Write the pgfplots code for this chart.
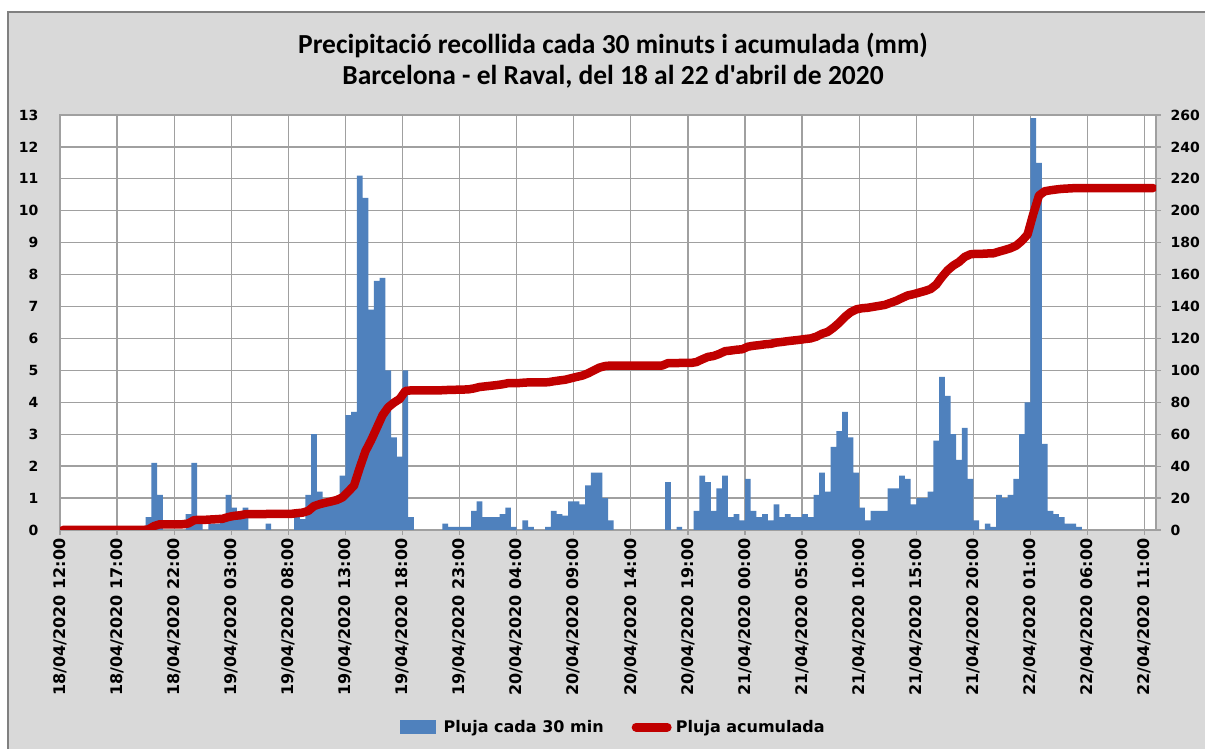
\documentclass[border=0pt]{standalone}
\usepackage{fontspec}
\usepackage{pgfplots}
\pgfplotsset{compat=1.18}
\newfontfamily\tickfont{DejaVu Sans}
\newfontfamily\titlefont{Carlito}
\definecolor{barblue}{HTML}{4F81BD}
\definecolor{linered}{HTML}{C00000}
\definecolor{bggray}{HTML}{D9D9D9}
\definecolor{gridgray}{HTML}{A0A0A0}
\newcommand{\tf}{\tickfont\bfseries\fontsize{16}{18}\selectfont}
\newcommand{\nf}{\tickfont\bfseries\fontsize{14}{17}\selectfont}
\begin{document}
\begin{tikzpicture}[x=1pt,y=1pt]
\useasboundingbox (0,0) rectangle (1205,749);
\fill[white] (0,0) rectangle (1205,749);
\filldraw[fill=bggray, draw=gray, line width=1.2pt] (8,-5) rectangle (1215,737);
\node[font=\titlefont\bfseries\fontsize{27.5}{32}\selectfont] at (613,704) {Precipitació recollida cada 30 minuts i acumulada (mm)};
\node[font=\titlefont\bfseries\fontsize{27.5}{32}\selectfont] at (613,672) {Barcelona - el Raval, del 18 al 22 d'abril de 2020};
\begin{axis}[
  at={(60pt,219pt)}, anchor=south west,
  width=1096pt, height=415pt, scale only axis,
  xmin=0, xmax=192, ymin=0, ymax=13,
  axis background/.style={fill=white},
  xtick={0,10,...,190},
  xticklabels={{18/04/2020 12:00},{18/04/2020 17:00},{18/04/2020 22:00},{19/04/2020 03:00},{19/04/2020 08:00},{19/04/2020 13:00},{19/04/2020 18:00},{19/04/2020 23:00},{20/04/2020 04:00},{20/04/2020 09:00},{20/04/2020 14:00},{20/04/2020 19:00},{21/04/2020 00:00},{21/04/2020 05:00},{21/04/2020 10:00},{21/04/2020 15:00},{21/04/2020 20:00},{22/04/2020 01:00},{22/04/2020 06:00},{22/04/2020 11:00}},
  xticklabel style={rotate=90, anchor=east, font=\tf},
  ytick={0,1,...,13},
  yticklabel style={font=\nf, xshift=-13pt},
  /pgf/number format/assume math mode=true,
  grid=major, major grid style={gridgray, line width=1.3pt},
  axis line style={gridgray, line width=1.3pt},
  tick pos=left, tick align=outside, major tick length=5pt,
  xtick style={gridgray, line width=1.3pt},
  ytick style={draw=none},
]
\addplot[ybar, bar width=1, fill=barblue, draw=none] coordinates {
(15.5,0.4) (16.5,2.1) (17.5,1.1) (22.5,0.5) (23.5,2.1) (24.5,0.2) (26.5,0.2) (27.5,0.2) (28.5,0.25) (29.5,1.1) (30.5,0.7) (31.5,0.35) (32.5,0.7) (36.5,0.2)
(41.5,0.44) (42.5,0.34) (43.5,1.1) (44.5,3.0) (45.5,1.2) (46.5,0.9) (47.5,0.8) (48.5,0.9) (49.5,1.7) (50.5,3.6) (51.5,3.7) (52.5,11.1) (53.5,10.4) (54.5,6.9) (55.5,7.8) (56.5,7.9) (57.5,5.0) (58.5,2.9) (59.5,2.3) (60.5,5.0) (61.5,0.4)
(67.5,0.2) (68.5,0.1) (69.5,0.1) (70.5,0.1) (71.5,0.1) (72.5,0.6) (73.5,0.9) (74.5,0.4) (75.5,0.4) (76.5,0.4) (77.5,0.5) (78.5,0.7) (79.5,0.1) (81.5,0.3) (82.5,0.1) (85.5,0.1) (86.5,0.6) (87.5,0.5) (88.5,0.45) (89.5,0.9) (90.5,0.9) (91.5,0.8) (92.5,1.4) (93.5,1.8) (94.5,1.8) (95.5,1.0) (96.5,0.3)
(106.5,1.5) (108.5,0.1) (111.5,0.6) (112.5,1.7) (113.5,1.5) (114.5,0.6) (115.5,1.3) (116.5,1.7) (117.5,0.4) (118.5,0.5) (119.5,0.3) (120.5,1.6) (121.5,0.6) (122.5,0.4) (123.5,0.5) (124.5,0.3) (125.5,0.8) (126.5,0.4) (127.5,0.5) (128.5,0.4) (129.5,0.4) (130.5,0.5) (131.5,0.4)
(132.5,1.1) (133.5,1.8) (134.5,1.2) (135.5,2.6) (136.5,3.1) (137.5,3.7) (138.5,2.9) (139.5,1.8) (140.5,0.7) (141.5,0.3) (142.5,0.6) (143.5,0.6) (144.5,0.6) (145.5,1.3) (146.5,1.3) (147.5,1.7) (148.5,1.6) (149.5,0.8) (150.5,1.0) (151.5,1.0) (152.5,1.2) (153.5,2.8) (154.5,4.8) (155.5,4.2) (156.5,3.0) (157.5,2.2) (158.5,3.2) (159.5,1.6) (160.5,0.3)
(162.5,0.2) (163.5,0.1) (164.5,1.1) (165.5,1.0) (166.5,1.1) (167.5,1.6) (168.5,3.0) (169.5,4.0) (170.5,12.9) (171.5,11.5) (172.5,2.7) (173.5,0.6) (174.5,0.5) (175.5,0.4) (176.5,0.2) (177.5,0.2) (178.5,0.1)
};
\end{axis}
\begin{axis}[
  at={(60pt,219pt)}, anchor=south west,
  width=1096pt, height=415pt, scale only axis,
  xmin=0, xmax=192, ymin=0, ymax=260,
  axis x line=none, axis y line*=right,
  ytick={0,20,...,260},
  yticklabel style={font=\nf, xshift=6pt},
  /pgf/number format/assume math mode=true,
  axis line style={gridgray, line width=1.3pt},
  tick align=outside, major tick length=5pt,
  ytick style={gridgray, line width=1.3pt},
  legend style={at={(0.505,-0.475)}, anchor=center, draw=none, fill=none, legend columns=-1, font=\tf,
    /tikz/every even column/.append style={column sep=26pt}},
]
\addlegendimage{legend image code/.code={\fill[barblue] (0pt,-6.5pt) rectangle (35pt,6.5pt); \path (41pt,0pt);}}
\addlegendentry{Pluja cada 30 min}
\addplot[linered, line width=8.5pt, line join=round, line cap=round,
  legend image code/.code={\draw[linered, line width=9pt, line cap=round] (4.5pt,0pt) -- (35.5pt,0pt); \path (38pt,0pt);}] coordinates {
(0.5,0) (14.5,0) (15.5,0.4) (16.5,2.5) (17.5,3.6) (21.5,3.6) (22.5,4.1) (23.5,6.2) (24.5,6.4) (25.5,6.4) (26.5,6.6) (27.5,6.8) (28.5,7.05) (29.5,8.15) (30.5,8.85) (31.5,9.2) (32.5,9.9) (35.5,9.9) (36.5,10.1) (40.5,10.1)
(41.5,10.54) (42.5,10.88) (43.5,11.98) (44.5,14.98) (45.5,16.18) (46.5,17.08) (47.5,17.88) (48.5,18.78) (49.5,20.48) (50.5,24.08) (51.5,27.78) (52.5,38.88) (53.5,49.28) (54.5,56.18) (55.5,63.98) (56.5,71.88) (57.5,76.88) (58.5,79.78) (59.5,82.08) (60.5,87.08) (61.5,87.48) (66.5,87.48)
(67.5,87.68) (68.5,87.78) (69.5,87.88) (70.5,87.98) (71.5,88.08) (72.5,88.68) (73.5,89.58) (74.5,89.98) (75.5,90.38) (76.5,90.78) (77.5,91.28) (78.5,91.98) (79.5,92.08) (80.5,92.08) (81.5,92.38) (82.5,92.48) (84.5,92.48) (85.5,92.58) (86.5,93.18) (87.5,93.68) (88.5,94.13) (89.5,95.03) (90.5,95.93) (91.5,96.73) (92.5,98.13) (93.5,99.93) (94.5,101.73) (95.5,102.73) (96.5,103.03) (105.5,103.03)
(106.5,104.53) (107.5,104.53) (108.5,104.63) (110.5,104.63) (111.5,105.23) (112.5,106.93) (113.5,108.43) (114.5,109.03) (115.5,110.33) (116.5,112.03) (117.5,112.43) (118.5,112.93) (119.5,113.23) (120.5,114.83) (121.5,115.43) (122.5,115.83) (123.5,116.33) (124.5,116.63) (125.5,117.43) (126.5,117.83) (127.5,118.33) (128.5,118.73) (129.5,119.13) (130.5,119.63) (131.5,120.03)
(132.5,121.13) (133.5,122.93) (134.5,124.13) (135.5,126.73) (136.5,129.83) (137.5,133.53) (138.5,136.43) (139.5,138.23) (140.5,138.93) (141.5,139.23) (142.5,139.83) (143.5,140.43) (144.5,141.03) (145.5,142.33) (146.5,143.63) (147.5,145.33) (148.5,146.93) (149.5,147.73) (150.5,148.73) (151.5,149.73) (152.5,150.93) (153.5,153.73) (154.5,158.53) (155.5,162.73) (156.5,165.73) (157.5,167.93) (158.5,171.13) (159.5,172.73) (160.5,173.03) (161.5,173.03)
(162.5,173.23) (163.5,173.33) (164.5,174.43) (165.5,175.43) (166.5,176.53) (167.5,178.13) (168.5,181.13) (169.5,185.13) (170.5,198.03) (171.5,209.53) (172.5,212.23) (173.5,212.83) (174.5,213.33) (175.5,213.73) (176.5,213.93) (177.5,214.13) (178.5,214.23) (191.5,214.23)
};
\addlegendentry{Pluja acumulada}
\end{axis}
\end{tikzpicture}
\end{document}
